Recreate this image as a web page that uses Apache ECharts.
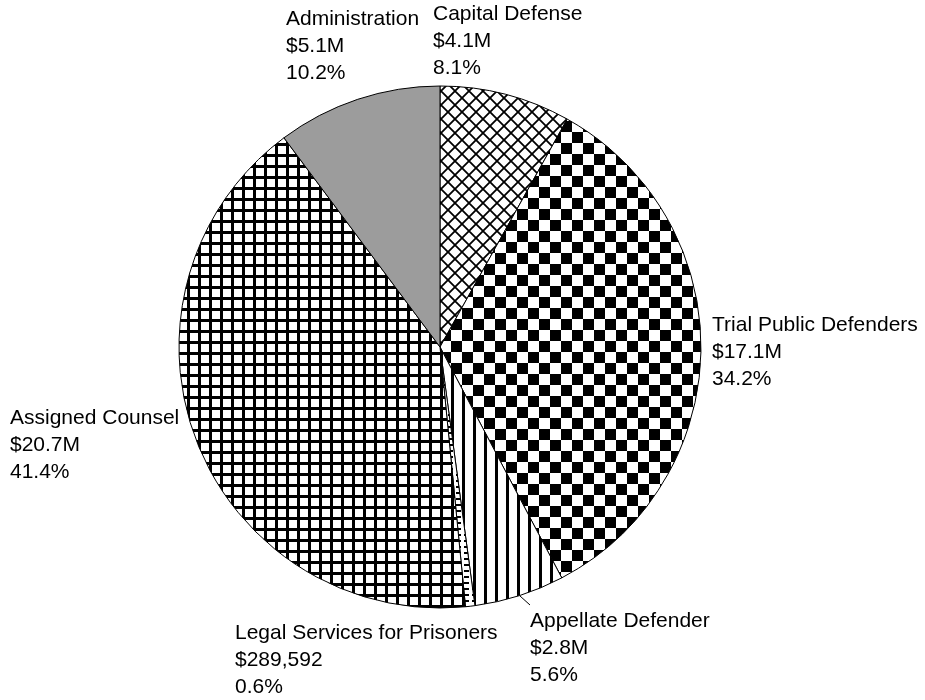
<!DOCTYPE html>
<html>
<head>
<meta charset="utf-8">
<script src="https://cdn.jsdelivr.net/npm/echarts@6/dist/echarts.min.js"></script>
<style>
html,body{margin:0;padding:0;background:#fff;}
#chart{width:925px;height:700px;}
</style>
</head>
<body>
<div id="chart"></div>
<script>
// ---- data ----
const categories = ['Capital Defense', 'Trial Public Defenders', 'Appellate Defender', 'Legal Services for Prisoners', 'Assigned Counsel', 'Administration'];
const values = [4060000, 17120000, 2800000, 289592, 20720000, 5110000];
const amountLabels = ['$4.1M', '$17.1M', '$2.8M', '$289,592', '$20.7M', '$5.1M'];
const percentLabels = ['8.1%', '34.2%', '5.6%', '0.6%', '41.4%', '10.2%'];

// ---- label placement (layout, not data) ----
const labelX = [433, 712, 530, 235, 10, 286];
const labelY = [41, 352, 648, 660, 445, 46];

// ---- fill patterns ----
function makeTile(w, h, draw) {
  const c = document.createElement('canvas');
  c.width = w; c.height = h;
  const ctx = c.getContext('2d');
  ctx.fillStyle = '#fff';
  ctx.fillRect(0, 0, w, h);
  ctx.fillStyle = '#000';
  ctx.strokeStyle = '#000';
  draw(ctx, w, h);
  return { image: c, repeat: 'repeat' };
}
const diamondFill = makeTile(14, 14, (ctx, w, h) => {
  ctx.lineWidth = 1.8;
  ctx.beginPath();
  ctx.moveTo(-1, -1); ctx.lineTo(w + 1, h + 1);
  ctx.moveTo(w + 1, -1); ctx.lineTo(-1, h + 1);
  ctx.stroke();
});
const checkerFill = makeTile(22, 22, (ctx, w, h) => {
  ctx.fillRect(0, 0, 11, 11);
  ctx.fillRect(11, 11, 11, 11);
});
const vlineFill = makeTile(11, 11, (ctx, w, h) => {
  ctx.fillRect(0, 0, 3, h);
});
const dashFill = makeTile(8, 6, (ctx, w, h) => {
  ctx.fillRect(0, 0, 5, 2);
});
const gridFill = makeTile(11, 11, (ctx, w, h) => {
  ctx.fillRect(0, 0, 3, h);
  ctx.fillRect(0, 0, w, 3);
});
const fills = [diamondFill, checkerFill, vlineFill, dashFill, gridFill, '#9c9c9c'];

const chart = echarts.init(document.getElementById('chart'), null, { renderer: 'canvas' });
const seriesData = categories.map((name, i) => ({
  name: name,
  value: values[i],
  itemStyle: { color: fills[i] },
  labelLine: { show: i === 2 }
}));

chart.setOption({
  backgroundColor: '#fff',
  animation: false,
  series: [{
    type: 'pie',
    center: [440, 347],
    radius: 261,
    startAngle: 90,
    clockwise: true,
    avoidLabelOverlap: false,
    data: seriesData,
    itemStyle: { borderColor: '#000', borderWidth: 1 },
    label: {
      show: true,
      position: 'outside',
      color: '#000',
      fontFamily: 'Liberation Sans, Arial, sans-serif',
      fontSize: 21,
      lineHeight: 27,
      align: 'left',
      formatter: (p) => categories[p.dataIndex] + '\n' + amountLabels[p.dataIndex] + '\n' + percentLabels[p.dataIndex]
    },
    labelLine: {
      length: 8,
      length2: 4,
      lineStyle: { color: '#000', width: 1 }
    },
    labelLayout: (p) => {
      const i = p.dataIndex;
      const out = {
        x: labelX[i],
        y: labelY[i],
        align: 'left',
        verticalAlign: 'middle'
      };
      if (p.labelLinePoints && p.labelLinePoints.length) {
        const start = p.labelLinePoints[0];
        out.labelLinePoints = [start, [labelX[i], labelY[i] - 43]];
      }
      return out;
    },
    emphasis: { disabled: true }
  }]
});
</script>
</body>
</html>
